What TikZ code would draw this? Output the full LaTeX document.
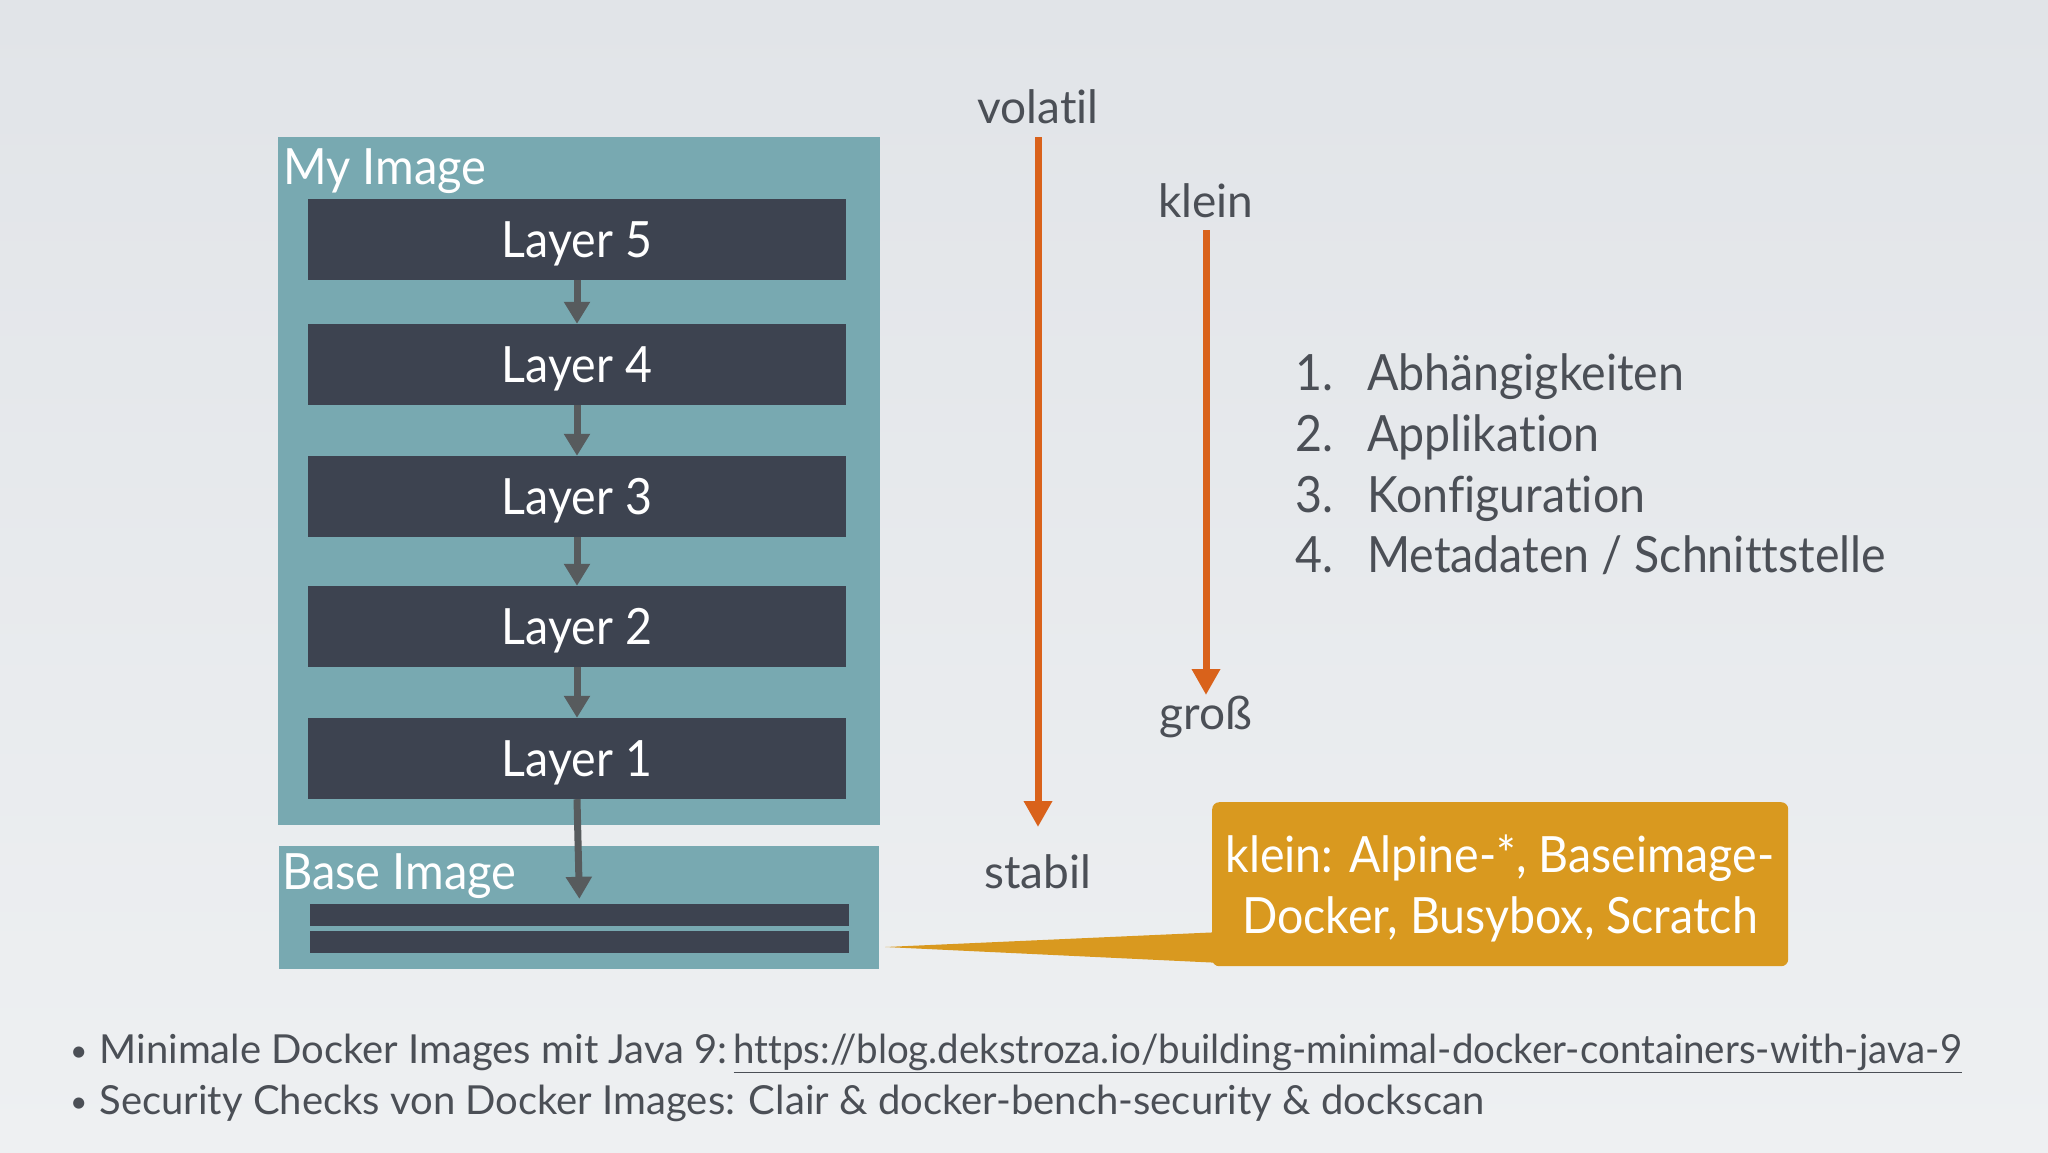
\documentclass[tikz,border=0pt]{standalone}
\usepackage{fontspec}
\usepackage{graphicx}
\setmainfont{Lato}[Ligatures=CommonOff]
\usetikzlibrary{arrows.meta}
\definecolor{bgtop}{HTML}{E1E4E8}
\definecolor{bgbot}{HTML}{EEF0F2}
\definecolor{imgteal}{HTML}{78A9B1}
\definecolor{layerdark}{HTML}{3D4350}
\definecolor{arrgray}{HTML}{575B5D}
\definecolor{orangeA}{HTML}{D9621B}
\definecolor{goldbox}{HTML}{D9991F}
\definecolor{txtgray}{HTML}{4B4F56}
\newcommand{\hsq}[2]{\scalebox{#1}[1]{#2}}
\newcommand{\smbul}{{\fontsize{30}{30}\selectfont\raisebox{2pt}{•}}}
\begin{document}
\begin{tikzpicture}[x=1pt,y=-1pt,
  imgbox/.style={fill=imgteal, anchor=north west, inner sep=0pt},
  layerbox/.style={fill=layerdark, minimum width=538pt, minimum height=81pt, inner sep=0pt,
    text=white, font=\fontsize{50}{60}\selectfont, text height=36pt, text depth=0pt},
  basebar/.style={fill=layerdark, minimum width=539pt, minimum height=22pt, inner sep=0pt},
  boxlabel/.style={anchor=base west, inner sep=0pt, text=white, font=\fontsize{50}{60}\selectfont},
  grayarrow/.style={draw=arrgray, line width=7pt, -{Triangle[length=22pt,width=25pt]}},
  orarrow/.style={draw=orangeA, line width=7pt, -{Triangle[length=26pt,width=27pt]}},
  sidelabel/.style={anchor=base, inner sep=0pt, text=txtgray, font=\fontsize{46}{55}\selectfont},
  listnum/.style={anchor=base east, inner sep=0pt, text=txtgray, font=\fontsize{50}{60}\selectfont},
  listtxt/.style={anchor=base west, inner sep=0pt, text=txtgray, font=\fontsize{50}{60}\selectfont},
  callout/.style={fill=goldbox, rounded corners=7pt, minimum width=576pt, minimum height=164pt, inner sep=0pt, anchor=north west},
  calltxt/.style={anchor=base, inner sep=0pt, text=white, font=\fontsize{50}{60}\selectfont},
  bottomtxt/.style={anchor=base west, inner sep=0pt, text=txtgray, font=\fontsize{40}{48}\selectfont}]
\shade[top color=bgtop, bottom color=bgbot] (0,0) rectangle (2048,1152);
\useasboundingbox (0,0) rectangle (2048,1152);

% My Image
\node[imgbox, minimum width=602pt, minimum height=688pt] (my) at (278,137) {};
\node[boxlabel] (mylbl) at (283,184) {\hsq{0.94}{My Image}};
\node[layerbox] (l5) at (577,239) {\hsq{0.93}{Layer 5}};
\node[layerbox] (l4) at (577,364.5) {\hsq{0.93}{Layer 4}};
\node[layerbox] (l3) at (577,496.5) {\hsq{0.93}{Layer 3}};
\node[layerbox] (l2) at (577,626.5) {\hsq{0.93}{Layer 2}};
\node[layerbox] (l1) at (577,758.5) {\hsq{0.93}{Layer 1}};

% Base Image
\node[imgbox, minimum width=600pt, minimum height=123pt] (base) at (279,846) {};
\node[boxlabel] (baselbl) at (282,889) {\hsq{0.94}{Base Image}};
\node[basebar] (bar1) at (579.5,915) {};
\node[basebar] (bar2) at (579.5,942) {};

% gray arrows
\draw[grayarrow] (l5.south) -- (l4.north);
\draw[grayarrow] (l4.south) -- (l3.north);
\draw[grayarrow] (l3.south) -- (l2.north);
\draw[grayarrow] (l2.south) -- (l1.north);
\draw[grayarrow, shorten >=5pt] (l1.south) -- (bar1.north);

% volatil / stabil
\node[sidelabel] (volatil) at (1038,123) {volatil};
\node[sidelabel] (stabil) at (1038,888) {stabil};
\coordinate (va) at (1038,137);
\coordinate (vb) at (1038,827);
\draw[orarrow] (va) -- (vb);

% klein / gross
\node[sidelabel] (klein) at (1206,217) {klein};
\node[sidelabel] (gross) at (1206,729) {groß};
\coordinate (ka) at (1206,230);
\coordinate (kb) at (1206,695);
\draw[orarrow] (ka) -- (kb);

% list
\node[listnum] (n1) at (1334,390) {\hsq{0.93}{1.}};
\node[listtxt] (t1) at (1367,390) {\hsq{0.93}{Abhängigkeiten}};
\node[listnum] (n2) at (1334,451) {\hsq{0.93}{2.}};
\node[listtxt] (t2) at (1367,451) {\hsq{0.93}{Applikation}};
\node[listnum] (n3) at (1334,512) {\hsq{0.93}{3.}};
\node[listtxt] (t3) at (1367,512) {\hsq{0.93}{Konfiguration}};
\node[listnum] (n4) at (1334,572) {\hsq{0.93}{4.}};
\node[listtxt] (t4) at (1367,572) {\hsq{0.93}{Metadaten / Schnittstelle}};

% callout
\coordinate (ptip) at (885,947);
\coordinate (pa) at (1222,932);
\coordinate (pb) at (1222,963);
\fill[goldbox] (pa) -- (ptip) -- (pb) -- cycle;
\node[callout] (call) at (1212,802) {};
\node[calltxt] (c1) at (1500,872) {\hsq{0.93}{klein: Alpine-*, Baseimage-}};
\node[calltxt] (c2) at (1500,933) {\hsq{0.93}{Docker, Busybox, Scratch}};

% bottom text
\node[bottomtxt] (b1) at (70,1063) {\smbul\hspace{12pt}Minimale Docker Images mit Java 9:\hspace{6pt}\hsq{0.962}{\underline{https://blog.dekstroza.io/building-minimal-docker-containers-with-java-9}}};
\node[bottomtxt] (b2) at (70,1114) {\smbul\hspace{12pt}Security Checks von Docker Images: Clair \& docker-bench-security \& dockscan};
\end{tikzpicture}
\end{document}
